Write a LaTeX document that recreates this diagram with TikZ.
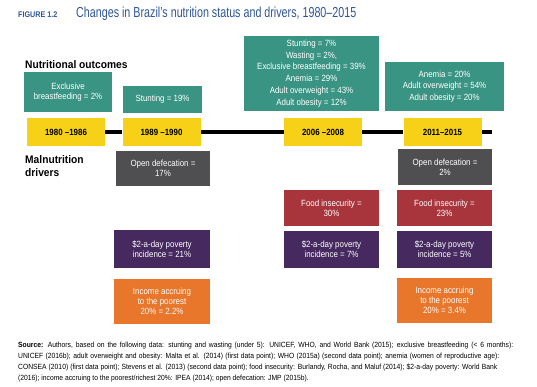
\documentclass[tikz,border=0pt]{standalone}
\usepackage{fontspec}
\setmainfont{Liberation Sans}
\newfontfamily\cf[FakeStretch=0.88]{Liberation Sans}
\newfontfamily\hf[FakeStretch=0.93]{Liberation Sans}
\newfontfamily\tf[FakeStretch=0.74]{Liberation Sans}
\newfontfamily\srcfont[FakeStretch=0.9]{Liberation Sans}
\definecolor{teal1}{HTML}{3A9483}
\definecolor{gray1}{HTML}{4F4F51}
\definecolor{red1}{HTML}{A8343C}
\definecolor{purp1}{HTML}{45295F}
\definecolor{oran1}{HTML}{E8762B}
\definecolor{yel1}{HTML}{F6D117}
\definecolor{blue1}{HTML}{2E5597}
\begin{document}
\begin{tikzpicture}[x=1pt,y=-1pt,
  box/.style={fill=#1, text=white, inner sep=0pt, align=center,
    font=\cf\fontsize{9}{10}\selectfont},
  tallbox/.style={box=#1, font=\cf\fontsize{9}{11.7}\selectfont},
  yr/.style={fill=yel1, text=black, inner sep=0pt, minimum width=78pt, minimum height=28pt,
    font=\cf\bfseries\fontsize{9}{10}\selectfont},
  head/.style={anchor=base west, inner sep=0pt, align=left,
    font=\hf\bfseries\fontsize{11}{13}\selectfont},
  src/.style={anchor=base west, inner sep=0pt, font=\srcfont\fontsize{7.5}{8}\selectfont},
  tl/.style={line width=3.5pt, black}
]
\useasboundingbox (0,0) rectangle (537,386);

% title
\node[anchor=base west, inner sep=0pt, text=blue1, font=\cf\bfseries\fontsize{8.2}{9}\selectfont] (fig) at (18,17) {FIGURE 1.2};
\node[anchor=base west, inner sep=0pt, text=blue1, font=\tf\fontsize{14.5}{16}\selectfont] (title) at (76,17) {Changes in Brazil’s nutrition status and drivers, 1980–2015};

% headings
\node[head] (hout) at (25,68) {Nutritional outcomes};
\node[head] (hdrv) at (25,176) {Malnutrition\\drivers};

% outcome boxes
\node[box=teal1, minimum width=88pt, minimum height=40pt] (o1) at (68,92) {Exclusive\\breastfeeding = 2\%};
\node[box=teal1, minimum width=79pt, minimum height=27pt] (o2) at (162.5,99.5) {Stunting = 19\%};
\node[tallbox=teal1, minimum width=135pt, minimum height=75pt] (o3) at (311.5,73.5) {Stunting = 7\%\\Wasting = 2\%,\\Exclusive breastfeeding = 39\%\\Anemia = 29\%\\Adult overweight = 43\%\\Adult obesity = 12\%};
\node[tallbox=teal1, minimum width=119pt, minimum height=49pt] (o4) at (444.5,86.5) {Anemia = 20\%\\Adult overweight = 54\%\\Adult obesity = 20\%};

% timeline
\node[yr] (y1) at (66,132) {1980 –1986};
\node[yr] (y2) at (161.5,132) {1989 –1990};
\node[yr] (y3) at (323,132) {2006 –2008};
\node[yr] (y4) at (442.5,132) {2011–2015};
\coordinate (lend) at (492,132);
\draw[tl] (y1) -- (y2);
\draw[tl] (y2) -- (y3);
\draw[tl] (y3) -- (y4);
\draw[tl] (y4) -- (lend);

% drivers
\node[box=gray1, minimum width=94pt, minimum height=35pt] (d1) at (163,168.5) {Open defecation =\\17\%};
\node[box=gray1, minimum width=94pt, minimum height=36pt] (d2) at (445,167) {Open defecation =\\2\%};
\node[box=red1, minimum width=95pt, minimum height=36pt] (f1) at (331.5,208) {Food insecurity =\\30\%};
\node[box=red1, minimum width=95pt, minimum height=36pt] (f2) at (444.5,208) {Food insecurity =\\23\%};
\node[box=purp1, minimum width=96pt, minimum height=38pt] (p1) at (162,249) {\$2-a-day poverty\\incidence = 21\%};
\node[box=purp1, minimum width=95pt, minimum height=37pt] (p2) at (331.5,249.5) {\$2-a-day poverty\\incidence = 7\%};
\node[box=purp1, minimum width=95pt, minimum height=37pt] (p3) at (444.5,249.5) {\$2-a-day poverty\\incidence = 5\%};
\node[box=oran1, minimum width=96pt, minimum height=45pt] (i1) at (162,301.5) {Income accruing\\to the poorest\\20\% = 2.2\%};
\node[box=oran1, minimum width=95pt, minimum height=45pt] (i2) at (444.5,300.5) {Income accruing\\to the poorest\\20\% = 3.4\%};

% source
\node[src] (s1) at (18,347) {\makebox[495pt][s]{\textbf{Source:} Authors, based on the following data: stunting and wasting (under 5): UNICEF, WHO, and World Bank (2015); exclusive breastfeeding (< 6 months):}};
\node[src] (s2) at (18,358) {\makebox[481pt][s]{UNICEF (2016b); adult overweight and obesity: Malta et al. (2014) (first data point); WHO (2015a) (second data point); anemia (women of reproductive age):}};
\node[src] (s3) at (18,369) {\makebox[479pt][s]{CONSEA (2010) (first data point); Stevens et al. (2013) (second data point); food insecurity: Burlandy, Rocha, and Maluf (2014); \$2-a-day poverty: World Bank}};
\node[src] (s4) at (18,380) {(2016); income accruing to the poorest/richest 20\%: IPEA (2014); open defecation: JMP (2015b).};
\end{tikzpicture}
\end{document}
